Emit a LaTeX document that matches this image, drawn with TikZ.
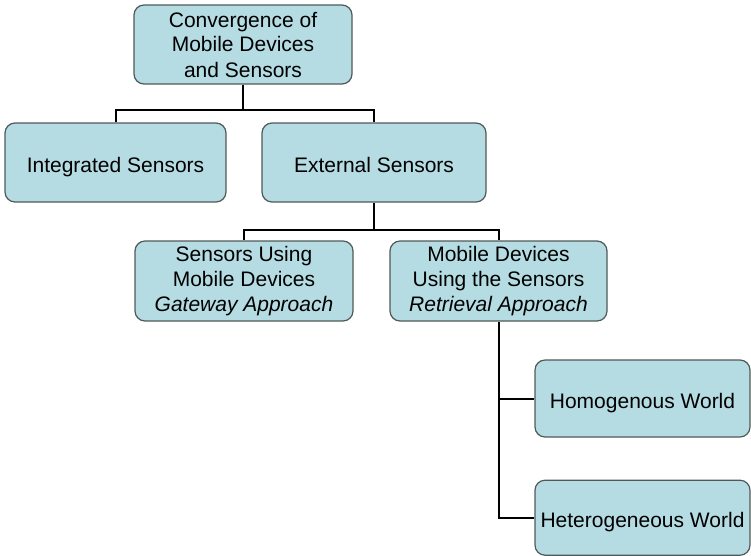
\documentclass[tikz,border=0pt]{standalone}
\usepackage{fontspec}
\setmainfont{Liberation Sans}
\usetikzlibrary{positioning}
\definecolor{boxfill}{HTML}{B5DCE3}
\definecolor{boxline}{HTML}{505858}
\tikzset{topic/.style={draw=boxline,line width=1.2pt,rounded corners=10pt,fill=boxfill,
  align=center,font=\fontsize{21}{25}\selectfont,inner sep=2pt,minimum height=79pt},
  oneline/.style={topic,text height=20pt,text depth=0pt},
  link/.style={line width=2pt,draw=black}}

\begin{document}
\begin{tikzpicture}[x=1pt,y=1pt]
\useasboundingbox (0,0) rectangle (751,-555);
\node[topic,minimum width=218pt] (converge) at (243,-44.5)
{Convergence of\\Mobile Devices\\and Sensors};
\node[oneline,minimum width=221pt] (integrated) at (115.5,-162.5) {Integrated Sensors};
\node[oneline,minimum width=224pt] (external) at (374,-162.5) {External Sensors};
\node[topic,minimum width=218pt,minimum height=80pt] (gateway) at (244,-281)
{Sensors Using\\Mobile Devices\\\textit{Gateway Approach}};
\node[topic,minimum width=217pt,minimum height=80pt] (retrieval) at (498.5,-281)
{Mobile Devices\\Using the Sensors\\\textit{Retrieval Approach}};
\node[oneline,minimum width=215pt,minimum height=77pt] (homog) at (642.5,-398.5) {Homogenous World};
\node[oneline,minimum width=215pt,minimum height=75pt,below=42pt of homog] (heterog) {Heterogeneous World};
\coordinate (split1) at (243,-110);
\coordinate (split2) at (374,-230);
\draw[link] (converge.south) -- (split1);
\draw[link] (integrated.north) |- (split1) -| (external.north);
\draw[link] (external.south) -- (split2);
\draw[link] (gateway.north) |- (split2) -| (retrieval.north);
\draw[link] (retrieval.south) |- (heterog.west);
\draw[link] (retrieval.south |- homog.west) -- (homog.west);
\end{tikzpicture}
\end{document}
